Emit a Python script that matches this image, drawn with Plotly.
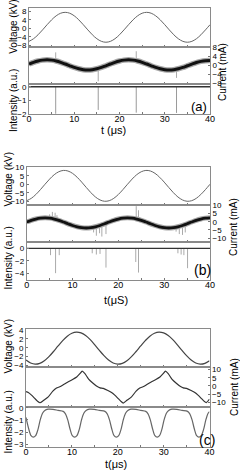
import plotly.graph_objects as go

W, H = 240, 471
FONT = "Liberation Sans, Arial, sans-serif"

# ---------------- data ----------------
t = list(range(41))  # time in microseconds

voltage_a = [-6.17, -4.95, -3.08, -0.77, 1.67, 3.98, 5.85, 7.08, 7.50, 7.08, 5.85, 3.98, 1.67, -0.77,
             -3.08, -4.95, -6.17, -6.60, -6.17, -4.95, -3.08, -0.77, 1.67, 3.98, 5.85, 7.08, 7.50,
             7.08, 5.85, 3.98, 1.67, -0.77, -3.08, -4.95, -6.17, -6.60, -6.17, -4.95, -3.08, -0.77, 1.67]
current_a = [0.54, 1.28, 1.87, 2.26, 2.40, 2.26, 1.87, 1.28, 0.54, -0.24, -0.98, -1.57, -1.96, -2.10,
             -1.96, -1.57, -0.98, -0.24, 0.54, 1.28, 1.87, 2.26, 2.40, 2.26, 1.87, 1.28, 0.54, -0.24,
             -0.98, -1.57, -1.96, -2.10, -1.96, -1.57, -0.98, -0.24, 0.5, 1.2, 1.7, 2.0, 2.1]
cur_a_spike_t = [5.9, 15.3, 23.7, 32.6]
cur_a_spike_base = [1.9, -1.4, 2.0, -1.8]
cur_a_spike_tip = [5.7, -7.1, 6.2, -5.6]
int_a_spike_t = [5.9, 15.3, 23.7, 32.6]
int_a_spike_depth = [-1.98, -1.7, -1.9, -1.92]

voltage_b = [-9.74, -8.34, -6.04, -3.13, 0.06, 3.13, 5.72, 7.50, 8.28, 7.94, 6.54, 4.24, 1.33, -1.86,
             -4.93, -7.52, -9.30, -10.08, -9.74, -8.34, -6.04, -3.13, 0.06, 3.13, 5.72, 7.50, 8.28,
             7.94, 6.54, 4.24, 1.33, -1.86, -4.93, -7.52, -9.30, -10.08, -9.74, -8.34, -6.04, -3.13, 0.06]
current_b = [-0.16, 0.85, 1.67, 2.21, 2.40, 2.21, 1.67, 0.85, -0.16, -1.24, -2.25, -3.07, -3.61, -3.80,
             -3.61, -3.07, -2.25, -1.24, -0.16, 0.85, 1.67, 2.21, 2.40, 2.21, 1.67, 0.85, -0.16, -1.24,
             -2.25, -3.07, -3.61, -3.80, -3.61, -3.07, -2.25, -1.24, -0.16, 0.85, 1.67, 2.21, 2.40]
cur_b_spike_t = [5.0, 5.6, 6.2, 6.6, 14.6, 15.2, 15.9, 16.4, 17.3, 23.9, 24.4, 32.6, 33.3, 34.0, 34.6]
cur_b_spike_base = [2.2, 1.9, 1.5, 1.1, -3.3, -2.9, -2.3, -1.9, -0.9, 1.7, 1.4, -3.3, -2.9, -2.3, -1.7]
cur_b_spike_tip = [4.5, 6.0, 5.5, 4.0, -6.5, -8.5, -7.0, -9.0, -7.5, 9.5, 7.0, -6.0, -7.5, -8.0, -6.5]
int_b_spike_t = [5.2, 6.3, 7.1, 14.3, 15.2, 16.0, 17.3, 23.8, 24.4, 33.0, 33.7, 34.3, 35.1]
int_b_spike_depth = [-1.1, -4.0, -1.1, -0.8, -1.0, -0.9, -3.1, -2.2, -3.9, -0.8, -1.0, -1.1, -3.2]

voltage_c = [-2.78, -3.44, -3.70, -3.52, -2.94, -2.01, -0.85, 0.40, 1.59, 2.58, 3.24, 3.50, 3.32, 2.74,
             1.81, 0.65, -0.60, -1.79, -2.78, -3.44, -3.70, -3.52, -2.94, -2.01, -0.85, 0.40, 1.59,
             2.58, 3.24, 3.50, 3.32, 2.74, 1.81, 0.65, -0.60, -1.79, -2.78, -3.44, -3.70, -3.52, -2.94]
t_cur_c = [0.0, 0.5, 1.2, 1.9, 2.5, 3.05, 3.85, 4.85, 5.85, 6.65, 7.35, 8.05, 9.05, 10.05, 11.05,
           11.75, 12.25, 12.85, 13.65, 14.55, 15.45, 16.15, 16.85, 17.85, 18.65, 19.35, 20.05, 20.65,
           21.2, 22.0, 23.0, 24.0, 24.8, 25.5, 26.2, 27.2, 28.2, 29.2, 29.9, 30.4, 31.0, 31.8, 32.7,
           33.6, 34.3, 35.0, 36.0, 36.8, 37.5, 38.2, 38.8, 39.3, 40.0]
current_c = [-3.5, -4.0, -5.6, -7.6, -9.3, -10.3, -8.8, -6.7, -3.2, -1.3, -0.5, 0.6, 2.3, 3.8, 5.5,
             7.5, 9.1, 7.5, 4.2, 1.8, -0.2, -1.2, -1.5, -2.8, -4.0, -5.6, -7.6, -9.3,
             -10.5, -8.8, -6.7, -3.2, -1.3, -0.5, 0.6, 2.3, 3.8, 5.5, 7.5, 9.1, 7.5, 4.2, 1.8,
             -0.2, -1.2, -1.5, -2.8, -4.0, -5.6, -7.6, -9.3, -10.2, -8.0]
t_int_c = [0.0, 0.6, 1.1, 1.6, 2.1, 2.6, 3.1, 3.6, 4.1, 4.8, 5.9, 7.0, 8.1, 8.6, 9.1, 9.6, 10.1, 10.6,
           11.1, 11.6, 12.1, 12.6, 13.1, 13.8, 14.9, 16.0, 17.2, 17.7, 18.2, 18.7, 19.2, 19.7, 20.2,
           20.7, 21.2, 21.7, 22.2, 22.9, 24.0, 25.0, 26.1, 26.6, 27.1, 27.6, 28.1, 28.6, 29.1, 29.6,
           30.1, 30.6, 31.1, 31.8, 32.9, 34.0, 35.2, 35.7, 36.2, 36.7, 37.2, 37.7, 38.2, 38.7, 39.2,
           39.7, 40.0]
intensity_c = [-0.8, -1.75, -2.3, -2.42, -2.3, -1.8, -1.0, -0.45, -0.22, -0.12, -0.13, -0.22, -0.3,
               -0.5, -1.0, -1.75, -2.3, -2.42, -2.3, -1.8, -1.0, -0.45, -0.22, -0.12, -0.13, -0.22,
               -0.3, -0.5, -1.0, -1.75, -2.3, -2.42, -2.3, -1.8, -1.0, -0.45, -0.22, -0.12, -0.13,
               -0.22, -0.3, -0.5, -1.0, -1.75, -2.3, -2.42, -2.3, -1.8, -1.0, -0.45, -0.22, -0.12,
               -0.13, -0.22, -0.3, -0.5, -1.0, -1.75, -2.3, -2.42, -2.3, -1.8, -1.0, -0.45, -0.32]

baseline_t = [0, 40]
baseline_v = [0, 0]

# ---------------- layout geometry (pixels) ----------------
panels = [
    dict(x0=29, x1=210, rows=[(8.3, 46.7), (46.7, 84), (84, 114.3)],
         ranges=[[-8.7, 9.4], [-8.3, 8.2], [-2.02, 0.2]],
         ticks=[[8, 4, 0, -4, -8], [8, 4, 0, -4, -8], [0, -1, -2]]),
    dict(x0=26.7, x1=210, rows=[(166.7, 205), (205, 242.3), (242.3, 280)],
         ranges=[[-12.3, 10.5], [-12.5, 10.2], [-5.1, 0.97]],
         ticks=[[10, 5, 0, -5, -10], [10, 5, 0, -5, -10], [0, -2, -4]]),
    dict(x0=26, x1=209.5, rows=[(329, 367.3), (367.3, 406.5), (406.5, 446.7)],
         ranges=[[-4.4, 4.2], [-12.6, 11.4], [-3.2, 0.1]],
         ticks=[[4, 2, 0, -2, -4], [10, 5, 0, -5, -10], [0, -1, -2, -3]]),
]


def px(x):
    return x / W


def py(y):
    return 1 - y / H


fig = go.Figure()
layout = dict(width=W, height=H, margin=dict(l=0, r=0, t=0, b=0, autoexpand=False),
              paper_bgcolor="white", plot_bgcolor="white", showlegend=False,
              font=dict(family=FONT, color="black"))

xt_vals = [0, 5, 10, 15, 20, 25, 30, 35, 40]
xt_text = ["0", "", "10", "", "20", "", "30", "", "40"]

n = 0
for p in panels:
    for r, (ya, yb) in enumerate(p["rows"]):
        n += 1
        xs = "" if n == 1 else str(n)
        layout["xaxis" + xs] = dict(
            domain=[px(p["x0"]), px(p["x1"])], anchor="y" + xs, range=[0, 40],
            automargin=False, ticklabelstandoff=-4,
            showline=True, mirror=True, linecolor="#8a8a8a", linewidth=1,
            ticks="inside", ticklen=2, tickcolor="#777", tickvals=xt_vals, ticktext=xt_text,
            showticklabels=(r == 2), tickfont=dict(size=9, family=FONT),
            showgrid=False, zeroline=False)
        layout["yaxis" + xs] = dict(
            domain=[py(yb), py(ya)], anchor="x" + xs, range=p["ranges"][r],
            automargin=False,
            side="right" if r == 1 else "left",
            showline=True, mirror=True, linecolor="#8a8a8a", linewidth=1,
            ticks="inside", ticklen=2, tickcolor="#777", tickvals=p["ticks"][r],
            tickfont=dict(size=8, family=FONT), showgrid=False, zeroline=False)


def ax(i):
    s = "" if i == 1 else str(i)
    return dict(xaxis="x" + s, yaxis="y" + s)


def spikes(ts, lo, hi):
    xs, ys = [], []
    for a, b, c in zip(ts, lo, hi):
        xs += [a, a, None]
        ys += [b, c, None]
    return xs, ys


# panel (a)
fig.add_trace(go.Scatter(x=t, y=voltage_a, mode="lines",
                         line=dict(color="#666", width=1, shape="spline"), **ax(1)))
sx, sy = spikes(cur_a_spike_t, cur_a_spike_base, cur_a_spike_tip)
fig.add_trace(go.Scatter(x=sx, y=sy, mode="lines", line=dict(color="#aaa", width=1), **ax(2)))
fig.add_trace(go.Scatter(x=t, y=current_a, mode="lines",
                         line=dict(color="#a8a8a8", width=5.5, shape="spline"), **ax(2)))
fig.add_trace(go.Scatter(x=t, y=current_a, mode="lines",
                         line=dict(color="#111", width=3, shape="spline"), **ax(2)))
sx, sy = spikes(int_a_spike_t, [0] * len(int_a_spike_t), int_a_spike_depth)
fig.add_trace(go.Scatter(x=sx, y=sy, mode="lines", line=dict(color="#9a9a9a", width=1), **ax(3)))
fig.add_trace(go.Scatter(x=baseline_t, y=baseline_v, mode="lines",
                         line=dict(color="#333", width=1.3), **ax(3)))

# panel (b)
fig.add_trace(go.Scatter(x=t, y=voltage_b, mode="lines",
                         line=dict(color="#666", width=1, shape="spline"), **ax(4)))
sx, sy = spikes(cur_b_spike_t, cur_b_spike_base, cur_b_spike_tip)
fig.add_trace(go.Scatter(x=sx, y=sy, mode="lines", line=dict(color="#aaa", width=1), **ax(5)))
fig.add_trace(go.Scatter(x=t, y=current_b, mode="lines",
                         line=dict(color="#a8a8a8", width=5, shape="spline"), **ax(5)))
fig.add_trace(go.Scatter(x=t, y=current_b, mode="lines",
                         line=dict(color="#111", width=2.8, shape="spline"), **ax(5)))
sx, sy = spikes(int_b_spike_t, [0] * len(int_b_spike_t), int_b_spike_depth)
fig.add_trace(go.Scatter(x=sx, y=sy, mode="lines", line=dict(color="#aaa", width=1), **ax(6)))
fig.add_trace(go.Scatter(x=baseline_t, y=baseline_v, mode="lines",
                         line=dict(color="#333", width=1.2), **ax(6)))

# panel (c)
fig.add_trace(go.Scatter(x=t, y=voltage_c, mode="lines",
                         line=dict(color="#444", width=1.2, shape="spline"), **ax(7)))
fig.add_trace(go.Scatter(x=t_cur_c, y=current_c, mode="lines",
                         line=dict(color="#333", width=1.2, shape="spline", smoothing=0.6), **ax(8)))
fig.add_trace(go.Scatter(x=t_int_c, y=intensity_c, mode="lines",
                         line=dict(color="#666", width=1.2, shape="spline", smoothing=0.8), **ax(9)))

# ---------------- text ----------------
ann = []


def text(s, x, y, size, angle=0):
    ann.append(dict(text=s, x=px(x), y=py(y), xref="paper", yref="paper", showarrow=False,
                    xanchor="center", yanchor="middle", textangle=angle,
                    font=dict(size=size, family=FONT, color="black")))


text("Voltage (kV)", 13.8, 27, 10, -90)
text("Current (mA)", 223, 72, 10, -90)
text("Intensity (a.u.)", 14, 101, 10, -90)
text("t (\u03bcs)", 113, 129.5, 11)
text("(a)", 199, 106.5, 13)

text("Voltage (kV)", 7.5, 180, 10, -90)
text("Current (mA)", 233, 227, 10, -90)
text("Intensity (a.u.)", 7.5, 258, 10, -90)
text("t(\u03bcS)", 116, 300, 11)
text("(b)", 202, 270, 14)

text("Voltage (kV)", 7.5, 347, 10, -90)
text("Current (mA)", 234, 387, 10, -90)
text("Intensity (a.u.)", 7.5, 422, 10, -90)
text("t(\u03bcs)", 116, 464, 11)
text("(c)", 207, 440, 14)

layout["annotations"] = ann
fig.update_layout(**layout)
fig.write_html("out.html", config={"displayModeBar": False},
               post_script="document.body.style.margin='0px';")
